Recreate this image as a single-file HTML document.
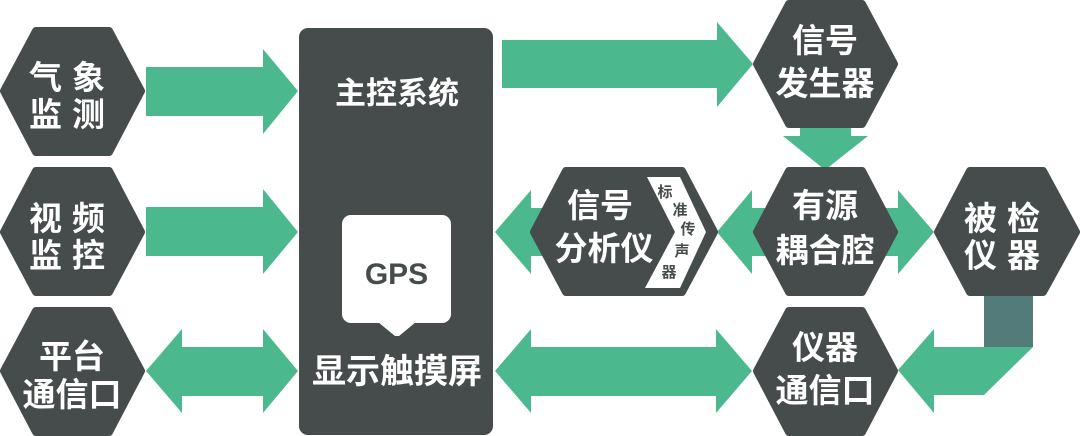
<!DOCTYPE html>
<html><head><meta charset="utf-8"><style>
html,body{margin:0;padding:0;background:#fff;}
svg{display:block;}
text{font-family:"Liberation Sans","Noto Sans CJK SC",sans-serif;font-weight:bold;}
</style></head><body>
<svg width="1080" height="436" viewBox="0 0 1080 436" xmlns="http://www.w3.org/2000/svg">
<g fill="#4cb88e">
<polygon points="146,67 263,67 263,49 298,91 263,134 263,116 146,116"/>
<polygon points="146,207 263,207 263,189 298,232 263,274 263,256 146,256"/>
<polygon points="146,371 182,329 182,347 263,347 263,329 298,371 263,413 263,396 182,396 182,413"/>
<polygon points="502,40 717,40 717,22 753,64 717,107 717,88 502,88"/>
<polygon points="800,126 851,126 851,136 868,136 825,170 783,136 800,136"/>
<polygon points="495,232 531,190 531,208 600,208 600,256 531,256 531,274"/>
<polygon points="717,232 752,190 752,208 898,208 898,190 934,232 898,274 898,256 752,256 752,274"/>
<polygon points="495,371 531,329 531,347 716,347 716,329 752,371 716,413 716,396 531,396 531,413"/>
<polygon points="934,347 1033,347 984,395 934,395 934,413 898,370 934,329"/>
</g>
<rect x="984" y="290" width="49" height="57" fill="#527b7a"/>
<g fill="#464c4c" stroke="#464c4c" stroke-width="8" stroke-linejoin="round">
<polygon points="4,91 36,31 109,31 141,91 109,152 36,152"/>
<polygon points="4,232 36,171 109,171 141,232 109,292 36,292"/>
<polygon points="4,371 36,311 109,311 141,371 109,432 36,432"/>
<polygon points="757,64 789,4 862,4 894,64 862,124 789,124"/>
<polygon points="757,232 789,171 862,171 894,232 862,292 789,292"/>
<polygon points="938,232 970,171 1043,171 1076,232 1043,292 970,292"/>
<polygon points="757,371 789,311 862,311 894,371 862,432 789,432"/>
<polygon points="534,232 566,171 682,171 714,232 682,292 566,292"/>
</g>
<rect x="299" y="28" width="194" height="407" rx="9" fill="#464c4c"/>
<polygon points="647,177 680,177 706,232 680,288 645,288 675,232" fill="#fff"/>
<rect x="342" y="215" width="109" height="108" rx="9" fill="#fff"/>
<polygon points="378,322 416,322 399,336 395,336" fill="#fff"/>
<text x="396.5" y="284" font-size="30" fill="#464c4c" text-anchor="middle">GPS</text>
<g fill="#fff" text-anchor="middle">
<text x="397" y="104" font-size="31">主控系统</text>
<text x="397" y="383" font-size="34">显示触摸屏</text>
<g font-size="33">
<text x="72" y="89" letter-spacing="10">气象</text>
<text x="72" y="126" letter-spacing="10">监测</text>
<text x="72" y="230" letter-spacing="10">视频</text>
<text x="72" y="267" letter-spacing="10">监控</text>
<text x="72" y="368">平台</text>
<text x="72" y="406">通信口</text>
<text x="825" y="52">信号</text>
<text x="825" y="95">发生器</text>
<text x="825" y="217">有源</text>
<text x="825" y="262">耦合腔</text>
<text x="1007" y="230" letter-spacing="10">被检</text>
<text x="1007" y="267" letter-spacing="10">仪器</text>
<text x="825" y="359">仪器</text>
<text x="825" y="402">通信口</text>
<text x="600" y="217">信号</text>
<text x="604" y="260">分析仪</text>
</g>
</g>
<g fill="#464c4c" font-size="15" text-anchor="middle">
<text x="665" y="197">标</text>
<text x="680" y="215">准</text>
<text x="688" y="234">传</text>
<text x="682" y="256">声</text>
<text x="669" y="277">器</text>
</g>
</svg>
</body></html>
